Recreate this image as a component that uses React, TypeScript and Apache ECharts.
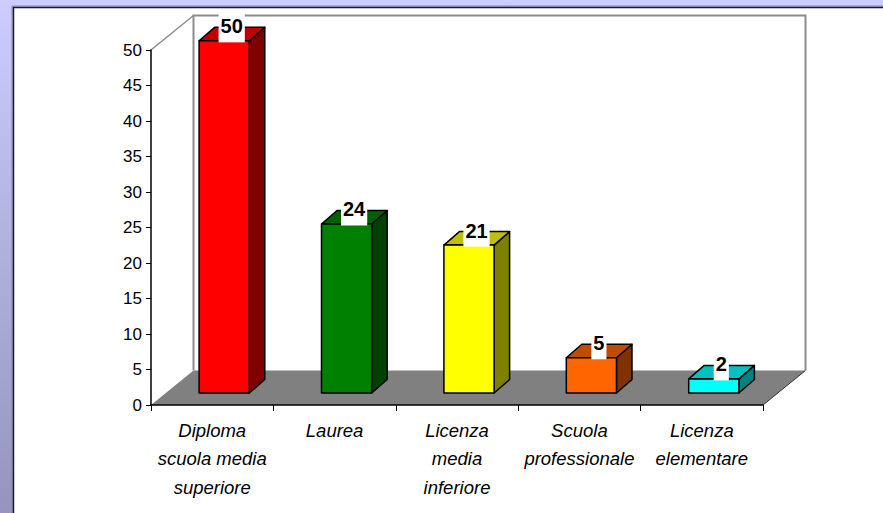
import React, { useEffect, useRef } from "react";
import * as echarts from "echarts";

const categories = [
  "Diploma\nscuola media\nsuperiore",
  "Laurea",
  "Licenza\nmedia\ninferiore",
  "Scuola\nprofessionale",
  "Licenza\nelementare",
];
const values = [50, 24, 21, 5, 2];
const frontColors = ["#ff0000", "#008000", "#ffff00", "#ff6600", "#00ffff"];
const topColors = ["#c00000", "#006000", "#c0c000", "#c04c00", "#00c0c0"];
const sideColors = ["#800000", "#004000", "#808000", "#803300", "#008080"];
const yTicks = { min: 0, max: 50, interval: 5 };

const FONT = "'Liberation Sans', Arial, Helvetica, sans-serif";

export default function App() {
  const ref = useRef<HTMLDivElement>(null);
  useEffect(() => {
    document.body.style.margin = "0";
    if (!ref.current) return;
    const chart = echarts.init(ref.current, null, { renderer: "svg" });
    const WDX = 42.5;
    const WDY = -34.5;
    const BDX = 15.5;
    const BDY = -13.5;

    const option: any = {
      animation: false,
      backgroundColor: {
        type: "linear",
        x: 0,
        y: 0,
        x2: 0,
        y2: 1,
        colorStops: [
          { offset: 0, color: "#ccccff" },
          { offset: 1, color: "#9494be" },
        ],
      },
      graphic: {
        elements: [
          {
            type: "rect",
            z: -10,
            silent: true,
            shape: { x: 12, y: 6, width: 900, height: 600 },
            style: { fill: "none", stroke: "#8888aa", lineWidth: 1 },
          },
          {
            type: "rect",
            z: -10,
            silent: true,
            shape: { x: 13.5, y: 7.5, width: 900, height: 600 },
            style: { fill: "#ffffff", stroke: "#1a1a2a", lineWidth: 1.5 },
          },
        ],
      },
      grid: { left: 151, top: 50, width: 612, height: 355, containLabel: false },
      xAxis: {
        type: "category",
        data: categories,
        axisLine: { show: true, lineStyle: { color: "#000", width: 1.5 } },
        axisTick: { show: true, interval: 0, length: 6, lineStyle: { color: "#000", width: 1 } },
        axisLabel: {
          interval: 0,
          margin: 11,
          color: "#000",
          fontFamily: FONT,
          fontStyle: "italic",
          fontSize: 18.5,
          lineHeight: 28.5,
        },
        splitLine: { show: false },
        z: 5,
      },
      yAxis: {
        type: "value",
        min: yTicks.min,
        max: yTicks.max,
        interval: yTicks.interval,
        axisLine: { show: true, lineStyle: { color: "#000", width: 1.5 } },
        axisTick: { show: true, length: 5, lineStyle: { color: "#000", width: 1 } },
        axisLabel: { margin: 9, color: "#000", fontFamily: FONT, fontSize: 17 },
        splitLine: { show: false },
        z: 5,
      },
      series: [
        {
          type: "custom",
          name: "walls",
          z: 1,
          silent: true,
          data: [[0, 0]],
          renderItem: (params: any, api: any) => {
            const bw = api.size([1, 0])[0];
            const p0 = api.coord([0, 0]);
            const p4 = api.coord([categories.length - 1, 0]);
            const pt = api.coord([0, yTicks.max]);
            const x0 = p0[0] - bw / 2;
            const x1 = p4[0] + bw / 2;
            const y0 = p0[1];
            const yT = pt[1];
            return {
              type: "group",
              children: [
                {
                  type: "polygon",
                  shape: {
                    points: [
                      [x0, y0],
                      [x1, y0],
                      [x1 + WDX, y0 + WDY],
                      [x0 + WDX, y0 + WDY],
                    ],
                  },
                  style: { fill: "#808080", stroke: "none" },
                },
                {
                  type: "line",
                  shape: { x1: x1, y1: y0, x2: x1 + WDX, y2: y0 + WDY },
                  style: { stroke: "#333", lineWidth: 1 },
                },
                {
                  type: "polyline",
                  shape: {
                    points: [
                      [x0 + WDX, y0 + WDY],
                      [x0 + WDX, yT + WDY],
                      [x1 + WDX, yT + WDY],
                      [x1 + WDX, y0 + WDY],
                    ],
                  },
                  style: { fill: "none", stroke: "#8c8c8c", lineWidth: 2 },
                },
                {
                  type: "line",
                  shape: { x1: x0, y1: yT, x2: x0 + WDX, y2: yT + WDY },
                  style: { stroke: "#8c8c8c", lineWidth: 1.5 },
                },
              ],
            };
          },
        },
        {
          type: "custom",
          name: "bars",
          z: 3,
          data: values.map((v, i) => [i, v]),
          renderItem: (params: any, api: any) => {
            const i = api.value(0);
            const v = api.value(1);
            const bw = api.size([1, 0])[0];
            const c = api.coord([i, v]);
            const b = api.coord([i, 0]);
            const w = bw * 0.41;
            const cx = c[0] + 12;
            const xl = cx - w / 2;
            const xr = cx + w / 2;
            const yB = b[1] - 12;
            const yT = yB - (b[1] - c[1]) * 0.992;
            const stroke = { stroke: "#000", lineWidth: 1.5, lineJoin: "round" };
            return {
              type: "group",
              children: [
                {
                  type: "polygon",
                  shape: {
                    points: [
                      [xr, yT],
                      [xr + BDX, yT + BDY],
                      [xr + BDX, yB + BDY],
                      [xr, yB],
                    ],
                  },
                  style: { fill: sideColors[i], ...stroke },
                },
                {
                  type: "polygon",
                  shape: {
                    points: [
                      [xl, yT],
                      [xr, yT],
                      [xr + BDX, yT + BDY],
                      [xl + BDX, yT + BDY],
                    ],
                  },
                  style: { fill: topColors[i], ...stroke },
                },
                {
                  type: "rect",
                  shape: { x: xl, y: yT, width: w, height: yB - yT },
                  style: { fill: frontColors[i], ...stroke },
                },
                {
                  type: "text",
                  x: cx + 7.5,
                  y: yT - 14.5,
                  z2: 10,
                  style: {
                    text: String(values[i]),
                    fill: "#000",
                    fontFamily: FONT,
                    fontWeight: "bold",
                    fontSize: 20,
                    lineHeight: 20,
                    align: "center",
                    verticalAlign: "middle",
                    backgroundColor: "#ffffff",
                    padding: [6, 2, 6, 2],
                  },
                },
              ],
            };
          },
        },
      ],
    };
    chart.setOption(option);
    return () => chart.dispose();
  }, []);
  return <div ref={ref} style={{ width: 883, height: 513 }} />;
}
